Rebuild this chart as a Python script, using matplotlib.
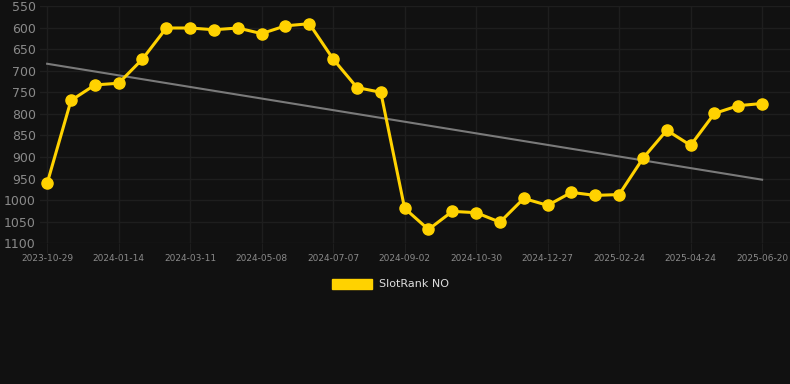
import numpy as np
import matplotlib
matplotlib.use("Agg")
import matplotlib.pyplot as plt
from matplotlib.patches import Patch

# rank per snapshot (category axis, ticks every 3rd point)
ranks = [961, 769, 733, 729, 673, 601, 601, 605, 601, 614, 596, 591,
         673, 739, 750, 1019, 1068, 1026, 1029, 1051, 996, 1012, 982,
         989, 987, 903, 838, 873, 799, 781, 776]
tick_labels = ["2023-10-29", "2024-01-14", "2024-03-11", "2024-05-08",
               "2024-07-07", "2024-09-02", "2024-10-30", "2024-12-27",
               "2025-02-24", "2025-04-24", "2025-06-20"]
series_name = "SlotRank NO"

BG = "#111111"
GRID = "#1e1e1e"
GOLD = "#FFD200"

x = np.arange(len(ranks))
slope, icpt = np.polyfit(x, ranks, 1)

fig = plt.figure(figsize=(7.9, 3.84), dpi=100, facecolor=BG)
ax = fig.add_axes([40 / 790, 1 - 243.3 / 384, 750 / 790, (243.3 - 6) / 384])
ax.set_facecolor(BG)

ax.plot(x, slope * x + icpt, color="#7a7a7a", linewidth=1.5, zorder=2)
ax.plot(x, ranks, color=GOLD, linewidth=2.2, marker="o", markersize=8,
        zorder=3, clip_on=False)

ax.set_ylim(1100, 550)
ax.set_yticks(np.arange(550, 1101, 50))
ax.set_xlim(-0.3, 31.17)
ax.set_xticks(x[::3])
ax.set_xticklabels(tick_labels)

ax.grid(True, color=GRID, linewidth=1)
ax.set_axisbelow(True)
for s in ax.spines.values():
    s.set_visible(False)
ax.tick_params(axis="y", length=0, pad=3, labelcolor="#8a8a8a", labelsize=9)
ax.tick_params(axis="x", length=7, color=GRID, pad=1, labelcolor="#8a8a8a",
               labelsize=6.5)

fig.legend(handles=[Patch(color=GOLD, label=series_name)], loc="center",
           bbox_to_anchor=(0.494, 1 - 284 / 384), frameon=False,
           handlelength=3.6, handleheight=1.0, handletextpad=0.6,
           labelcolor="#dddddd", fontsize=8)

fig.savefig("out.png", dpi=100, facecolor=BG)
